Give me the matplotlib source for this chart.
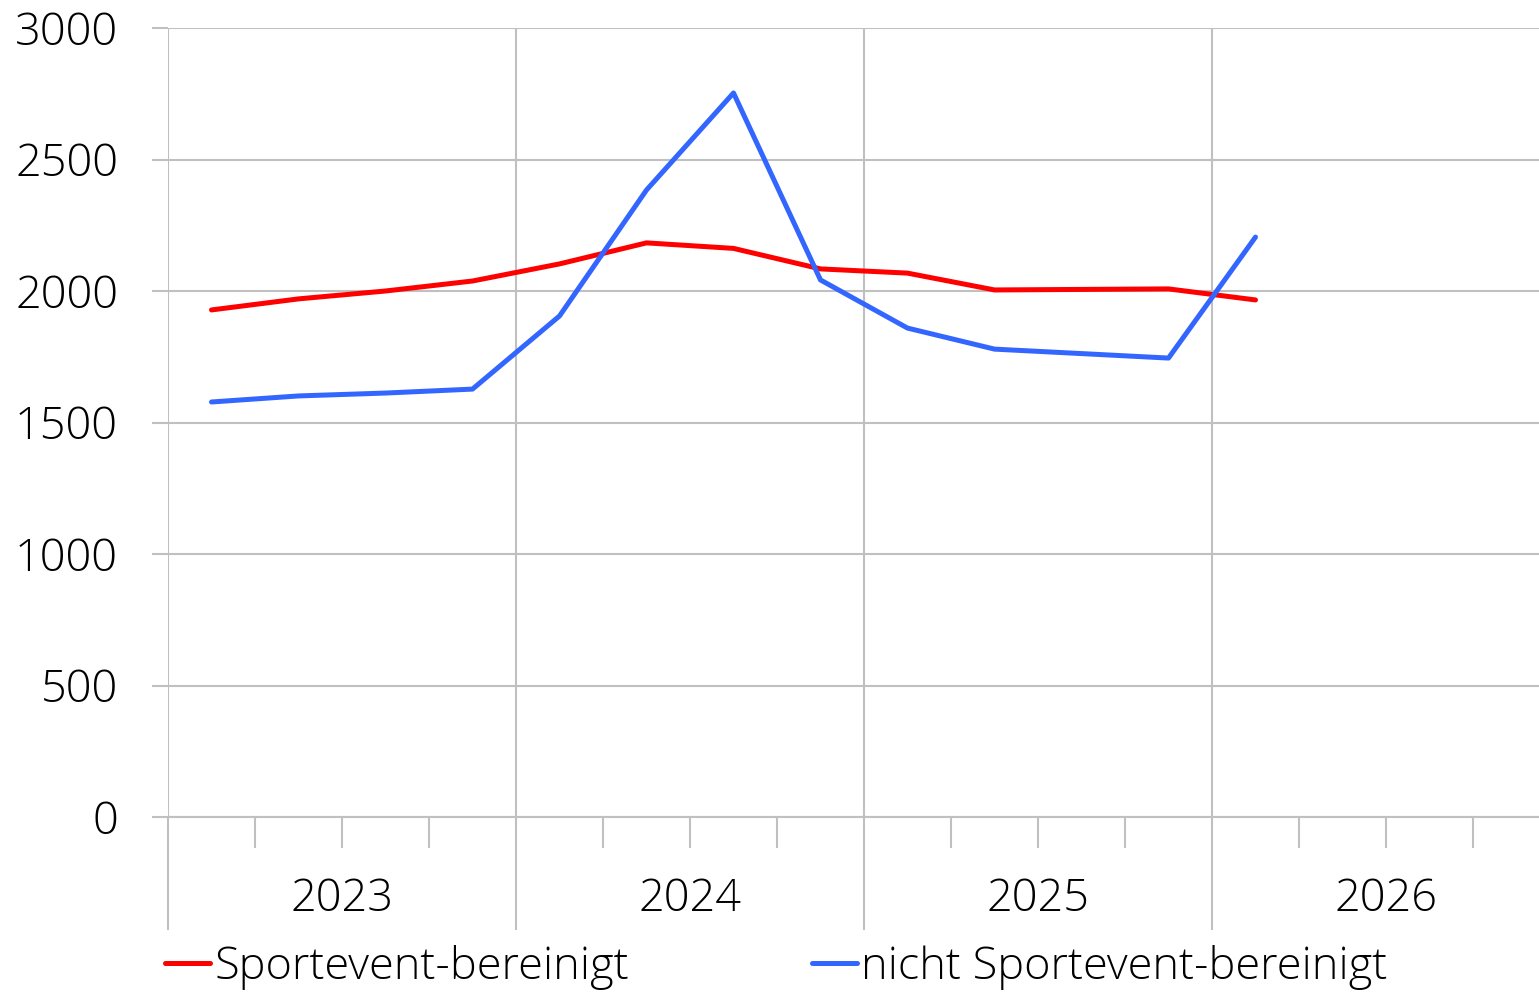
import matplotlib
matplotlib.use('Agg')
import matplotlib.pyplot as plt
import matplotlib.transforms as mtransforms
from matplotlib.ticker import MultipleLocator, FixedLocator, NullFormatter

plt.rcParams['font.family'] = ['Open Sans', 'DejaVu Sans']
plt.rcParams['font.weight'] = 'light'

# Quarterly data (2025 Q3 has no point; line connects Q2 to Q4)
quarters = ['2023Q1', '2023Q2', '2023Q3', '2023Q4',
            '2024Q1', '2024Q2', '2024Q3', '2024Q4',
            '2025Q1', '2025Q2', '2025Q4', '2026Q1']
bereinigt = [1928, 1970, 2000, 2038, 2103, 2183, 2162, 2084, 2068, 2004, 2008, 1966]
nicht_bereinigt = [1578, 1601, 1612, 1627, 1905, 2384, 2753, 2042, 1859, 1779, 1745, 2205]
years = [2023, 2024, 2025, 2026]
series_names = ['Sportevent-bereinigt', 'nicht Sportevent-bereinigt']

first_year = years[0]
xpos = [(int(q[:4]) - first_year) * 4 + int(q[-1]) - 0.5 for q in quarters]

grid_c = '#c0c0c0'
fs = 32.5
fig = plt.figure(figsize=(15.39, 9.94), dpi=100)
W, H = 1539, 994
ax = fig.add_axes([168 / W, (H - 817) / H, (1560 - 168) / W, 789 / H])

ax.plot(xpos, bereinigt, color='#ff0000', lw=3.6, solid_capstyle='round',
        solid_joinstyle='round', label=series_names[0], zorder=3)
ax.plot(xpos, nicht_bereinigt, color='#3366ff', lw=3.6, solid_capstyle='round',
        solid_joinstyle='round', label=series_names[1], zorder=3)

ax.set_xlim(0, 4 * len(years))
ax.set_ylim(0, 3000)
ax.yaxis.set_major_locator(MultipleLocator(500))
ax.grid(axis='y', color=grid_c, lw=1.5)
ax.xaxis.set_major_locator(FixedLocator([4 * i for i in range(len(years))]))
ax.xaxis.set_minor_locator(FixedLocator([q for q in range(4 * len(years)) if q % 4]))
ax.grid(axis='x', which='major', color=grid_c, lw=1.5)
ax.xaxis.set_major_formatter(NullFormatter())
ax.tick_params(axis='x', which='major', length=81, width=1.5, color=grid_c)
ax.tick_params(axis='x', which='minor', length=22, width=1.5, color=grid_c)
ax.tick_params(axis='y', length=11.5, width=1.5, color=grid_c, pad=24.5,
               labelsize=fs)
ax.set_axisbelow(True)
for s in ['top', 'right', 'left']:
    ax.spines[s].set_visible(False)
ax.spines['bottom'].set_color(grid_c)
ax.spines['bottom'].set_linewidth(1.5)

trans = mtransforms.blended_transform_factory(ax.transData, fig.transFigure)
for i, y in enumerate(years):
    ax.text(4 * i + 2, (H - 900) / H, str(y), transform=trans,
            ha='center', va='center', fontsize=fs)

fig.legend(loc='center left', bbox_to_anchor=(165 / W, 1 - 967 / H), ncol=2,
           frameon=False, fontsize=fs, borderaxespad=0, borderpad=0,
           handlelength=1.0, handletextpad=0.09, columnspacing=4.05)

fig.savefig('out.png', dpi=100)
